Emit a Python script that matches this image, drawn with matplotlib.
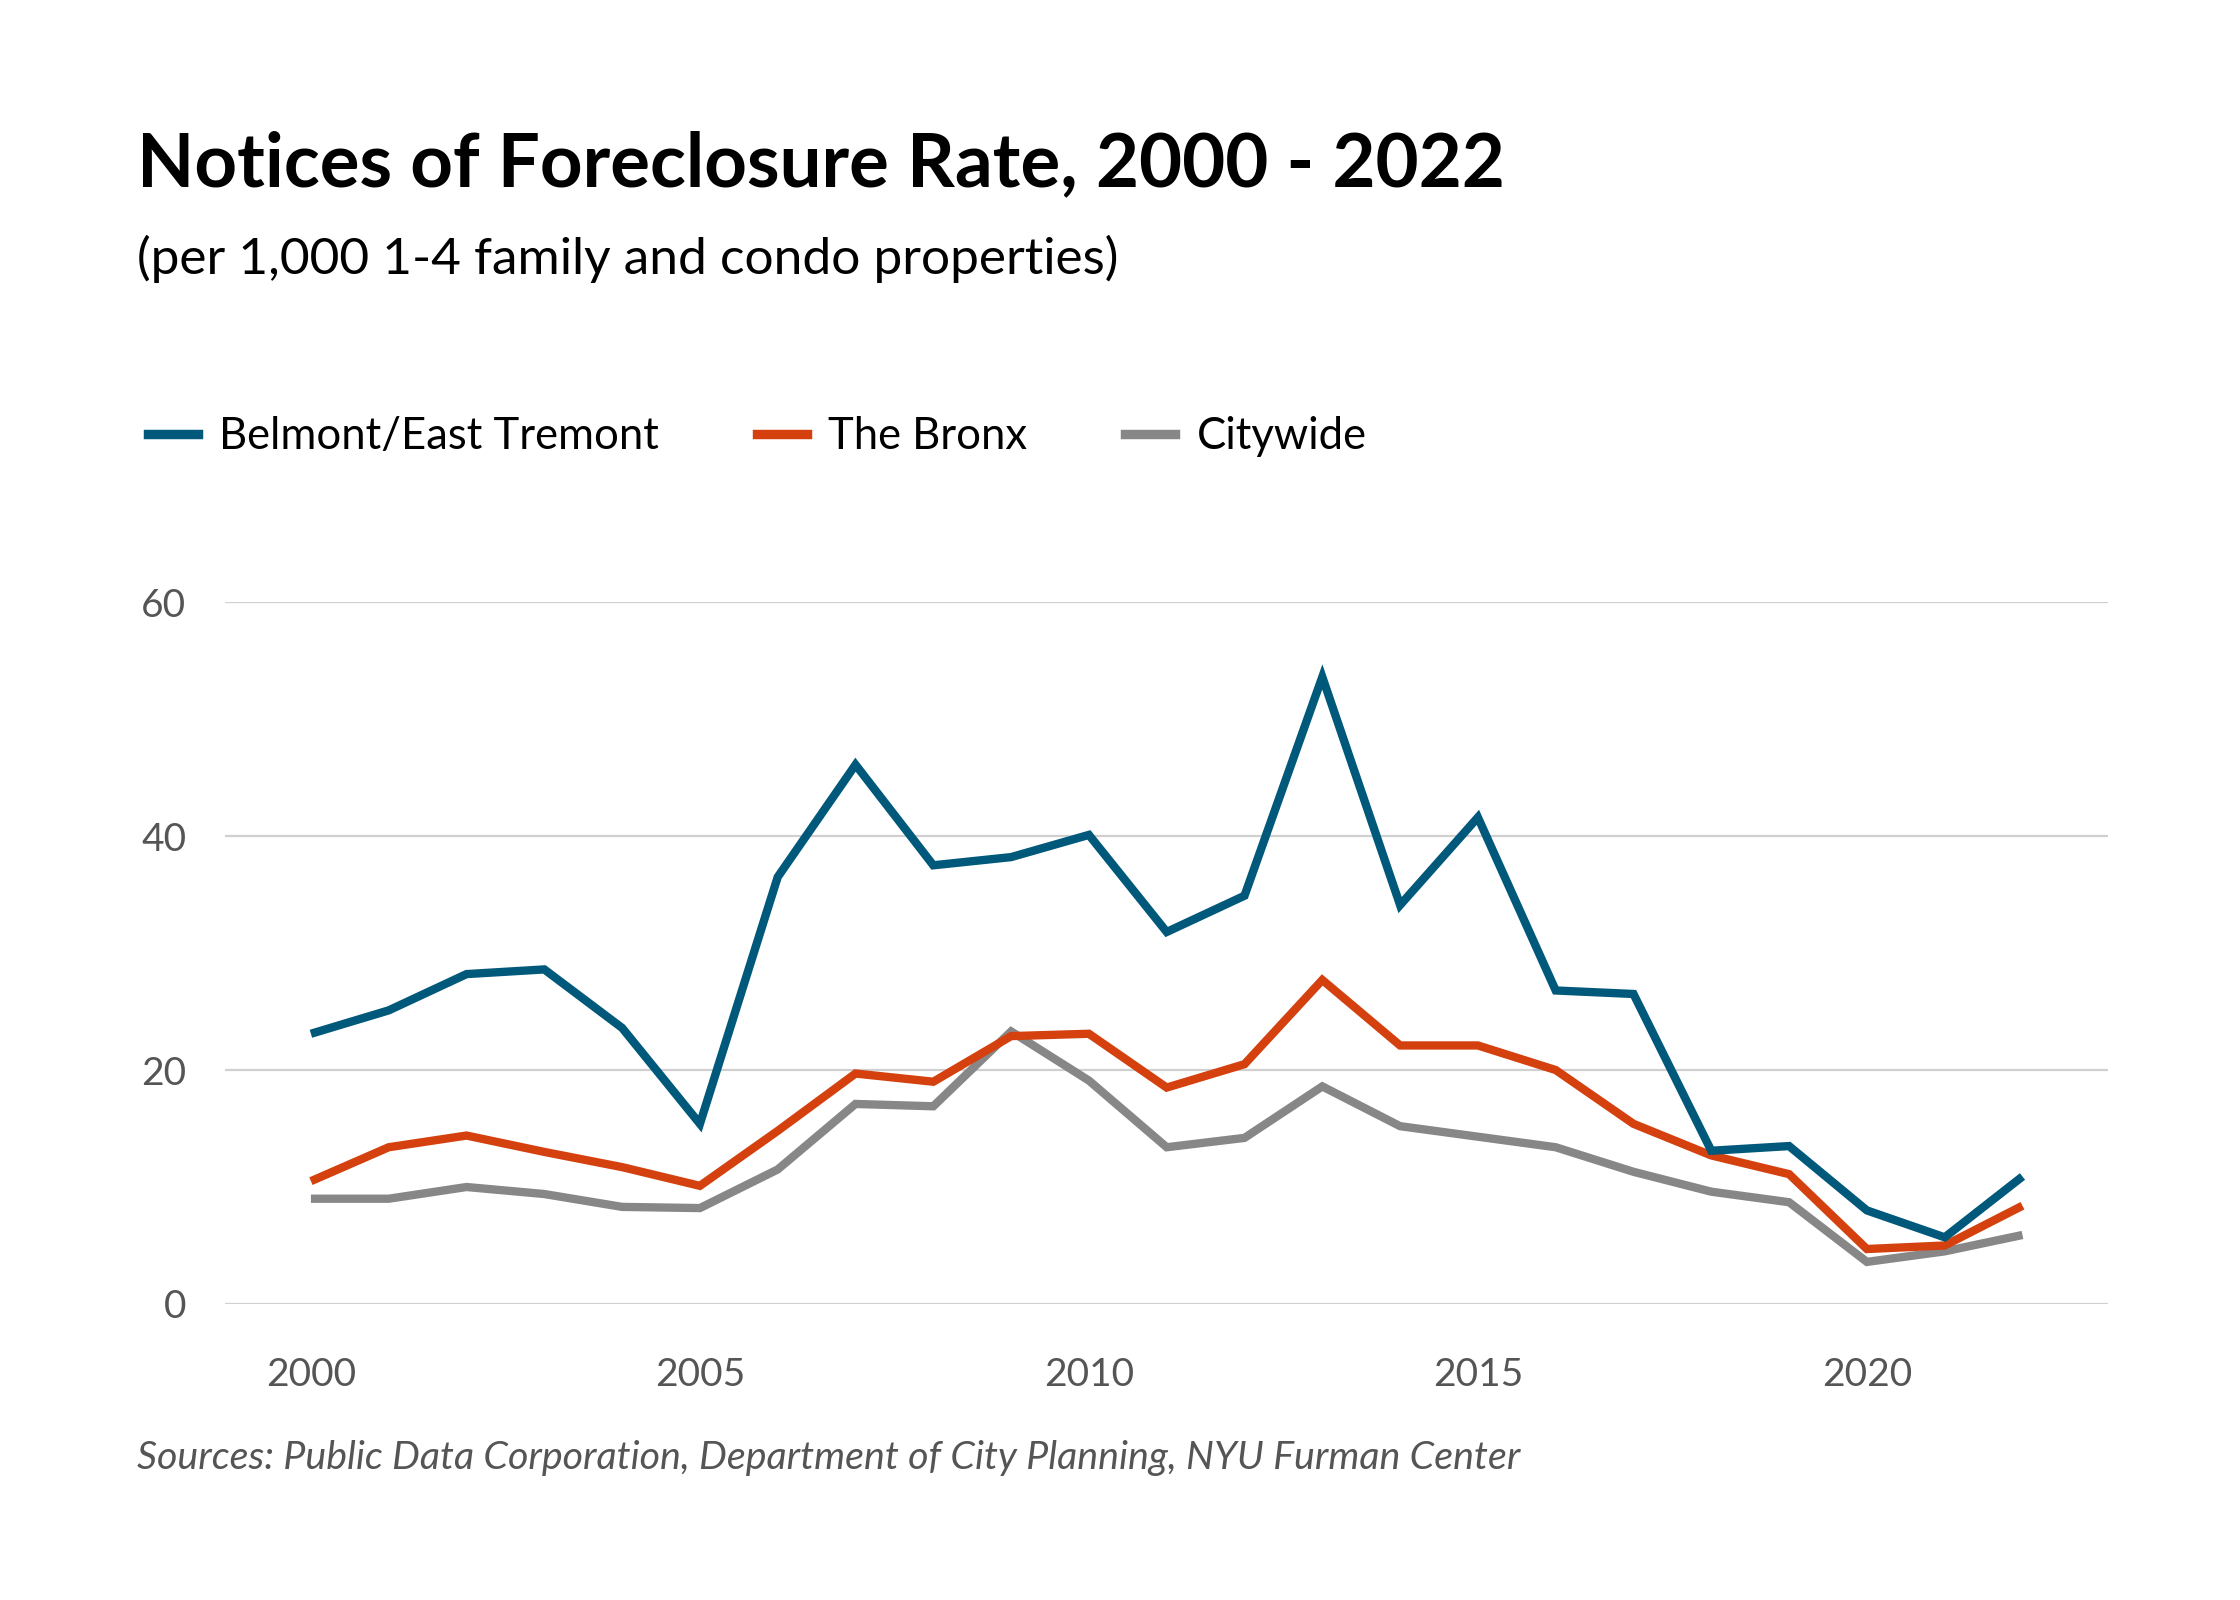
import matplotlib
matplotlib.use("Agg")
import matplotlib.pyplot as plt
from matplotlib.lines import Line2D

plt.rcParams['font.family'] = ['Lato', 'DejaVu Sans']

years = list(range(2000, 2023))
belmont = [23.1, 25.1, 28.2, 28.6, 23.6, 15.4, 36.5, 46.1, 37.5, 38.2, 40.1, 31.8,
           34.9, 53.6, 34.1, 41.6, 26.8, 26.5, 13.1, 13.5, 8.0, 5.7, 10.9]
bronx = [10.5, 13.4, 14.4, 13.0, 11.7, 10.1, 14.8, 19.7, 19.0, 22.9, 23.1, 18.5,
         20.5, 27.7, 22.1, 22.1, 20.0, 15.4, 12.7, 11.1, 4.7, 5.0, 8.4]
citywide = [9.0, 9.0, 10.0, 9.4, 8.3, 8.2, 11.5, 17.1, 16.9, 23.3, 19.1, 13.4,
            14.2, 18.6, 15.2, 14.3, 13.4, 11.3, 9.6, 8.7, 3.6, 4.5, 5.9]

series_names = ["Belmont/East Tremont", "The Bronx", "Citywide"]
series_colors = ["#00587a", "#d4410f", "#878787"]
yticks = [0, 20, 40, 60]
xticks = [2000, 2005, 2010, 2015, 2020]

fig = plt.figure(figsize=(11.2, 8), dpi=200)
ax = fig.add_axes([0.1006, 0.185, 0.8405, 0.4387])

for vals, name, col in zip([citywide, bronx, belmont], series_names[::-1], series_colors[::-1]):
    ax.plot(years, vals, color=col, lw=3.0, solid_joinstyle="miter",
            solid_capstyle="butt", clip_on=False)

ax.set_xlim(1998.9, 2023.1)
ax.set_ylim(0, 60)
ax.set_yticks(yticks)
ax.set_xticks(xticks)
ax.grid(axis="y", color="#d0d0d0", lw=0.8)
ax.set_axisbelow(True)
for s in ax.spines.values():
    s.set_visible(False)
ax.tick_params(axis="both", length=0, labelsize=14, labelcolor="#555555")
ax.tick_params(axis="y", pad=14)
ax.tick_params(axis="x", pad=19)

fig.text(0.061, 0.897, "Notices of Foreclosure Rate, 2000 - 2022", fontsize=26.8,
         fontweight="bold", va="center", ha="left", color="#000000")
fig.text(0.061, 0.838, "(per 1,000 1-4 family and condo properties)", fontsize=18.5,
         va="center", ha="left", color="#000000")

handles = [Line2D([0], [0], color=c, lw=3.4) for c in series_colors]
leg = fig.legend(handles, series_names, loc="center left", bbox_to_anchor=(0.0485, 0.727),
                 ncol=3, frameon=False, fontsize=15.7, handlelength=1.15,
                 handletextpad=0.48, columnspacing=2.25)

fig.text(0.061, 0.089, "Sources: Public Data Corporation, Department of City Planning, NYU Furman Center",
         fontsize=14.2, style="italic", color="#555555", va="center", ha="left")

fig.savefig("out.png", dpi=200, facecolor="white")
